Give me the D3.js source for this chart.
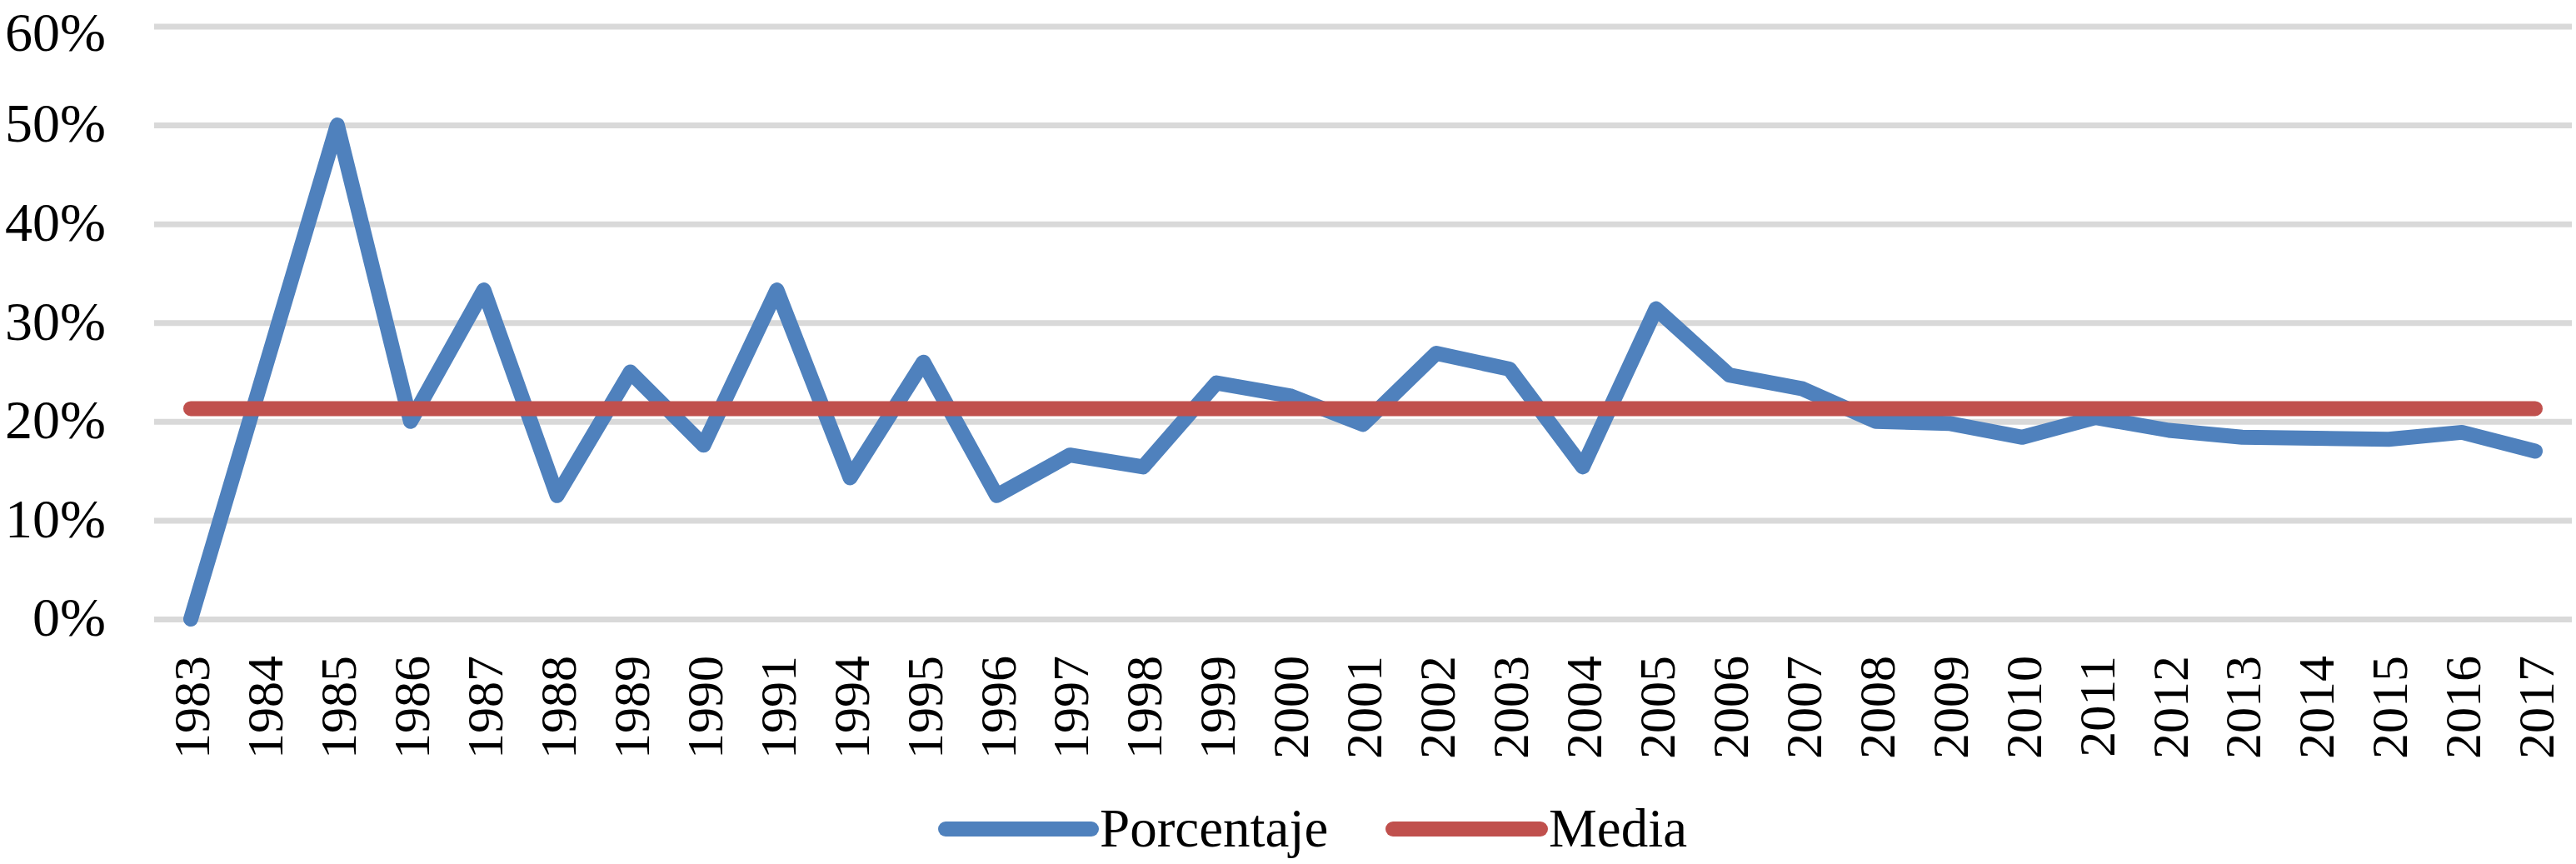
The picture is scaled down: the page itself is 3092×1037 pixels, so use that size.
<!DOCTYPE html>
<html>
<head>
<meta charset="utf-8">
<script src="https://cdn.jsdelivr.net/npm/d3@7"></script>
<style>
  body { margin: 0; background: #fff; }
  svg { display: block; }
  text { font-family: "Liberation Serif", "Times New Roman", serif; fill: #000; }
</style>
</head>
<body>
<svg id="chart" width="3092" height="1037"></svg>
<script>
const years = ["1983","1984","1985","1986","1987","1988","1989","1990","1991","1994","1995","1996","1997","1998","1999","2000","2001","2002","2003","2004","2005","2006","2007","2008","2009","2010","2011","2012","2013","2014","2015","2016","2017"];
const porcentaje = [0, 25, 50, 20, 33.3, 12.5, 25, 17.6, 33.3, 14.3, 26, 12.5, 16.6, 15.4, 23.9, 22.6, 19.7, 26.9, 25.3, 15.4, 31.4, 24.7, 23.3, 20.0, 19.8, 18.4, 20.4, 19.1, 18.4, 18.3, 18.2, 18.9, 17.0];
const media = 21.3;
const yTicks = [0, 10, 20, 30, 40, 50, 60];
const seriesNames = ["Porcentaje", "Media"];
const seriesColors = ["#4F81BD", "#C0504D"];

const svg = d3.select("#chart");
const mLeft = 185, mRight = 3087, mTop = 31.5, mBottom = 743;

const x = d3.scalePoint().domain(years).range([mLeft, mRight]).padding(0.5);
const y = d3.scaleLinear().domain([0, 60]).range([mBottom, mTop]);

// gridlines + y labels
const yAxis = d3.axisLeft(y)
  .tickValues(yTicks)
  .tickSize(-(mRight - mLeft))
  .tickPadding(58)
  .tickFormat(d => d + "%");
const gy = svg.append("g").attr("transform", `translate(${mLeft},0)`).call(yAxis);
gy.select(".domain").remove();
gy.selectAll(".tick line").attr("stroke", "#D9D9D9").attr("stroke-width", 7);
gy.selectAll(".tick text")
  .attr("font-size", 66)
  .attr("dy", d => d === 60 ? "0.44em" : "0.3em")
  .style("font-family", '"Liberation Serif", serif')
  .attr("fill", "#000");

// x labels
const xAxis = d3.axisBottom(x).tickSize(0).tickPadding(0);
const gx = svg.append("g").attr("transform", `translate(0,${mBottom})`).call(xAxis);
gx.select(".domain").remove();
gx.selectAll(".tick text")
  .attr("font-size", 62)
  .style("font-family", '"Liberation Serif", serif')
  .attr("fill", "#000")
  .attr("text-anchor", "end")
  .attr("transform", "rotate(-90)")
  .attr("x", -44)
  .attr("y", 0)
  .attr("dy", "0.35em");

// lines
const line = d3.line().x((d, i) => x(years[i])).y(d => y(d));
svg.append("path")
  .datum(porcentaje)
  .attr("d", line)
  .attr("fill", "none")
  .attr("stroke", seriesColors[0])
  .attr("stroke-width", 18)
  .attr("stroke-linejoin", "round")
  .attr("stroke-linecap", "round");

svg.append("path")
  .datum(years.map(() => media))
  .attr("d", line)
  .attr("fill", "none")
  .attr("stroke", seriesColors[1])
  .attr("stroke-width", 18)
  .attr("stroke-linecap", "round");

// legend
const legendY = 995;
const legendItems = [
  { x1: 1135, x2: 1310, tx: 1320 },
  { x1: 1672, x2: 1849, tx: 1859 }
];
legendItems.forEach((it, i) => {
  svg.append("line")
    .attr("x1", it.x1).attr("x2", it.x2)
    .attr("y1", legendY).attr("y2", legendY)
    .attr("stroke", seriesColors[i])
    .attr("stroke-width", 18)
    .attr("stroke-linecap", "round");
  svg.append("text")
    .attr("x", it.tx)
    .attr("y", legendY)
    .attr("dy", "0.33em")
    .attr("font-size", 65)
    .text(seriesNames[i]);
});
</script>
</body>
</html>
